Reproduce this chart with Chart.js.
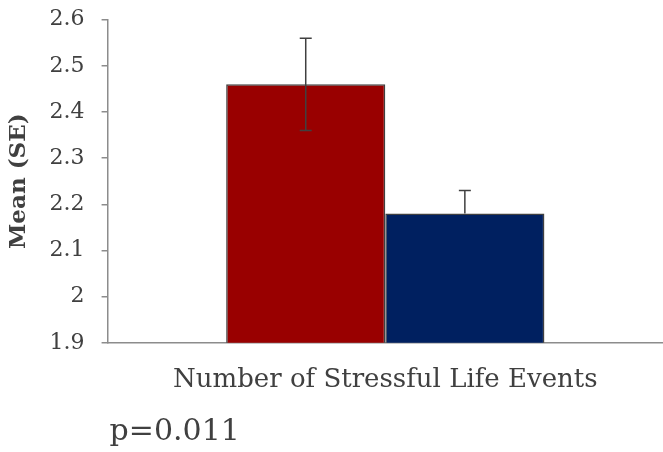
<!DOCTYPE html>
<html>
<head>
<meta charset="utf-8">
<script src="https://cdn.jsdelivr.net/npm/chart.js@4"></script>
<style>
  html, body { margin: 0; padding: 0; background: #fff; }
  #wrap { width: 663px; height: 452px; position: relative; }
</style>
</head>
<body>
<div id="wrap"><canvas id="chart"></canvas></div>
<script>
// Data
const categories = ['Number of Stressful Life Events'];
const groupNames = ['Group A', 'Group B'];
const means = [2.46, 2.18];
const errPlus = [0.10, 0.05];
const errMinus = [0.10, 0.00];
const barColors = ['#990000', '#002060'];
const yTicks = [1.9, 2.0, 2.1, 2.2, 2.3, 2.4, 2.5, 2.6];
const pText = 'p=0.011';

const serif = '"DejaVu Serif", serif';

// error bars drawn on top of the bars
const errorBars = {
    id: 'errorBars',
    afterDatasetsDraw(chart) {
        const ctx = chart.ctx;
        const y = chart.scales.y;
        ctx.save();
        ctx.strokeStyle = '#404040';
        ctx.lineWidth = 1.5;
        chart.data.datasets.forEach((ds, i) => {
            const bar = chart.getDatasetMeta(i).data[0];
            const x = bar.x;
            const top = y.getPixelForValue(means[i] + errPlus[i]);
            const bot = y.getPixelForValue(means[i] - errMinus[i]);
            ctx.beginPath();
            ctx.moveTo(x, top);
            ctx.lineTo(x, bot);
            ctx.moveTo(x - 6, top);
            ctx.lineTo(x + 6, top);
            if (errMinus[i] > 0) {
                ctx.moveTo(x - 6, bot);
                ctx.lineTo(x + 6, bot);
            }
            ctx.stroke();
        });
        ctx.restore();
    }
};

// p value text under the axis title
const pLabel = {
    id: 'pLabel',
    afterDraw(chart) {
        const ctx = chart.ctx;
        ctx.save();
        ctx.fillStyle = '#404040';
        ctx.font = '30px ' + serif;
        ctx.textBaseline = 'alphabetic';
        ctx.fillText(pText, chart.chartArea.left + 2, 440);
        ctx.restore();
    }
};

new Chart(document.getElementById('chart'), {
    type: 'bar',
    data: {
        labels: categories,
        datasets: groupNames.map((name, i) => ({
            label: name,
            data: [means[i]],
            backgroundColor: barColors[i],
            borderColor: '#404040',
            borderWidth: 1.5,
            barPercentage: 1.0,
            categoryPercentage: 0.573
        }))
    },
    options: {
        responsive: true,
        maintainAspectRatio: false,
        animation: false,
        layout: { padding: { top: 0, right: 0, bottom: 56, left: 5 } },
        plugins: {
            legend: { display: false },
            tooltip: { enabled: false }
        },
        scales: {
            x: {
                grid: { display: false, drawTicks: false },
                border: { color: '#8c8c8c', width: 1.5 },
                ticks: { display: false },
                title: {
                    display: true,
                    text: categories[0],
                    color: '#404040',
                    font: { family: serif, size: 26 },
                    padding: { top: 22, bottom: 0 }
                }
            },
            y: {
                min: 1.9,
                max: 2.6,
                afterBuildTicks(axis) {
                    axis.ticks = yTicks.map(v => ({ value: v }));
                },
                grid: {
                    drawOnChartArea: false,
                    color: '#8c8c8c',
                    tickLength: 6,
                    lineWidth: 1.5
                },
                border: { color: '#8c8c8c', width: 1.5 },
                ticks: {
                    color: '#404040',
                    padding: 17,
                    font: { family: serif, size: 22, lineHeight: 0.25 },
                    callback: v => String(Math.round(v * 10) / 10)
                },
                title: {
                    display: true,
                    text: 'Mean (SE)',
                    color: '#404040',
                    font: { family: serif, size: 23, weight: 'bold' },
                    padding: { top: 0, bottom: 0 }
                }
            }
        }
    },
    plugins: [errorBars, pLabel]
});
</script>
</body>
</html>
